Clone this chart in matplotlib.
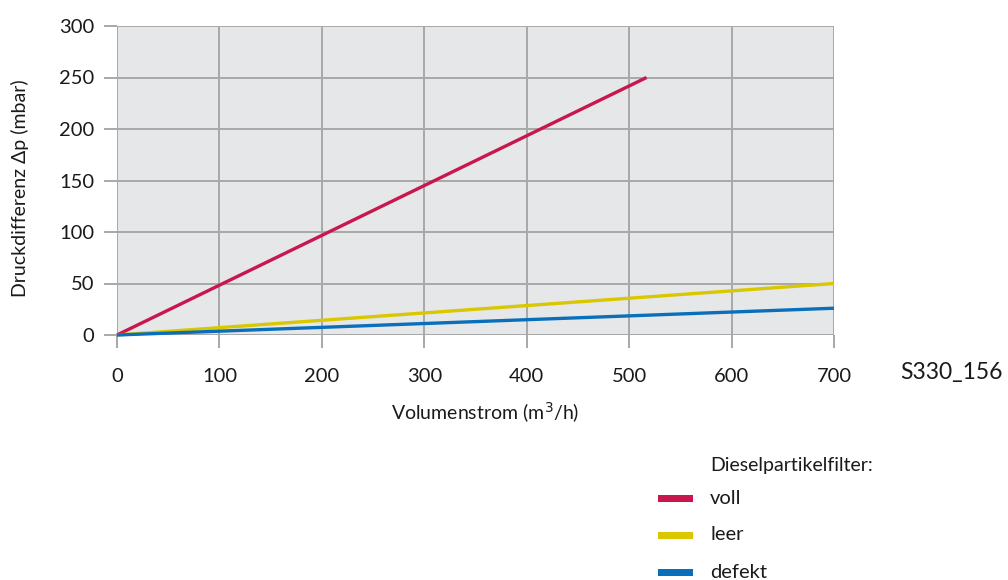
import matplotlib.pyplot as plt
from matplotlib.patches import Rectangle

# data
x_voll = [0, 517]
y_voll = [0, 250]
x_leer = [0, 700]
y_leer = [0, 50]
x_defekt = [0, 700]
y_defekt = [0, 26]

series_names = ["voll", "leer", "defekt"]
colors = ["#c8174e", "#d9c800", "#0a6fba"]

x_ticks = [0, 100, 200, 300, 400, 500, 600, 700]
y_ticks = [0, 50, 100, 150, 200, 250, 300]

BG = "#e6e7e9"
GRID = "#a8a8a8"
INK = "#1a1a1a"

plt.rcParams["font.family"] = ["Lato", "DejaVu Sans"]

W, H = 1008, 580
fig = plt.figure(figsize=(W / 100, H / 100), dpi=100)
ax = fig.add_axes([117 / W, 1 - 335 / H, (834 - 117) / W, (335 - 26) / H])
ax.set_facecolor(BG)

ax.set_xlim(0, 700)
ax.set_ylim(0, 300)
ax.set_xticks(x_ticks)
ax.set_yticks(y_ticks)
ax.grid(True, color=GRID, linewidth=1.4, zorder=1)
ax.set_axisbelow(True)
for s in ax.spines.values():
    s.set_visible(False)

ax.tick_params(axis="both", length=9.4, width=1.4, color=GRID, labelsize=14.5, labelcolor=INK)
ax.tick_params(axis="x", pad=14)
ax.tick_params(axis="y", pad=7)

for xs, ys, c in zip([x_voll, x_leer, x_defekt], [y_voll, y_leer, y_defekt], colors):
    ax.plot(xs, ys, color=c, linewidth=2.4, zorder=3, clip_on=False, solid_capstyle="butt")

fig.text(485 / W, 1 - 413 / H, "Volumenstrom (m$^3$/h)", fontsize=14, color=INK,
         ha="center", va="center")
fig.text(20 / W, 1 - 188 / H, "Druckdifferenz \u0394p (mbar)", fontsize=14, color=INK,
         ha="center", va="center", rotation=90)

fig.text(900 / W, 1 - 373 / H, "S330_156", fontsize=16.5, color=INK, va="center", ha="left")

# legend drawn in figure pixels
fig.text(710 / W, 1 - 465 / H, "Dieselpartikelfilter:", fontsize=14, color=INK, va="center", ha="left")
for i, (name, c) in enumerate(zip(series_names, colors)):
    yc = 498 + i * 37
    fig.patches.append(Rectangle((658 / W, 1 - (yc + 3.5) / H), 35 / W, 7 / H,
                                 transform=fig.transFigure, color=c, linewidth=0))
    fig.text(710 / W, 1 - yc / H, name, fontsize=14.5, color=INK, va="center", ha="left")

fig.savefig("out.png", dpi=100, facecolor="white")
